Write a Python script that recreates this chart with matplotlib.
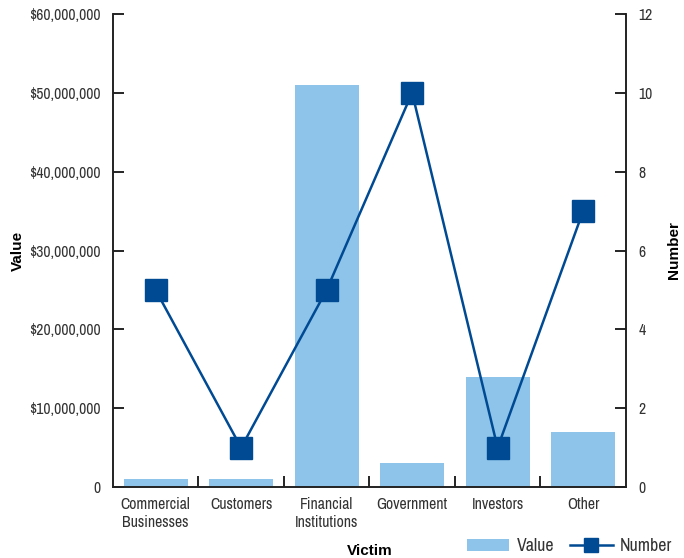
import numpy as np
import matplotlib.pyplot as plt
from matplotlib import font_manager as fm
from matplotlib.ticker import FuncFormatter

# pick a narrow sans face if one is installed
names = sorted({f.name for f in fm.fontManager.ttflist})
narrow = [n for n in names if 'Narrow' in n or 'Condensed' in n]
base = narrow[0] if narrow else 'Liberation Sans'
plt.rcParams['font.family'] = [base, 'DejaVu Sans']

victims = ['Commercial\nBusinesses', 'Customers', 'Financial\nInstitutions',
           'Government', 'Investors', 'Other']
value = [1000000, 1000000, 51000000, 3000000, 14000000, 7000000]
number = [5, 1, 5, 10, 1, 7]

bar_color = '#8EC4EA'
line_color = '#004A93'
text_color = '#333333'
fs = 11.3 if narrow else 9.5
title_font = dict(fontweight='bold', fontsize=11, family=['Liberation Sans', 'DejaVu Sans'])

fig = plt.figure(figsize=(6.84, 5.58), dpi=100)
ax = fig.add_axes([0.165, 0.127, 0.75, 0.848])
x = np.arange(len(victims))
ax.bar(x, value, width=0.75, color=bar_color, label='Value', zorder=1)
ax.set_xlim(-0.5, len(victims) - 0.5)
ax.set_ylim(0, 60000000)
ax.set_yticks(np.arange(0, 60000001, 10000000))
ax.yaxis.set_major_formatter(FuncFormatter(lambda v, p: '0' if v == 0 else '${:,.0f}'.format(v)))
ax.set_xticks(x)
ax.set_xticklabels(victims, linespacing=1.25)
ax.set_xticks(np.arange(0.5, len(victims) - 1, 1), minor=True)
ax.tick_params(axis='x', which='major', length=0, pad=7, labelsize=fs, labelcolor=text_color)
ax.tick_params(axis='x', which='minor', direction='in', length=8, width=1.2)
ax.tick_params(axis='y', direction='in', length=8, width=1.2, labelsize=fs, labelcolor=text_color, pad=9)
ax.set_ylabel('Value', labelpad=3, **title_font)
ax.set_xlabel('Victim', labelpad=10, **title_font)
ax.spines['top'].set_visible(False)
for s in ['left', 'right', 'bottom']:
    ax.spines[s].set_linewidth(1.2)
    ax.spines[s].set_color('#222222')

ax2 = ax.twinx()
ax2.plot(x, number, color=line_color, lw=1.8, marker='s', markersize=16,
         markerfacecolor=line_color, markeredgecolor=line_color, label='Number', zorder=3)
ax2.set_ylim(0, 12)
ax2.set_yticks(np.arange(0, 13, 2))
ax2.tick_params(axis='y', direction='in', length=8, width=1.2, labelsize=fs, labelcolor=text_color, pad=9)
ax2.set_ylabel('Number', labelpad=10, **title_font)
ax2.spines['top'].set_visible(False)
for s in ['left', 'right', 'bottom']:
    ax2.spines[s].set_linewidth(1.2)
    ax2.spines[s].set_color('#222222')

h1, l1 = ax.get_legend_handles_labels()
h2, l2 = ax2.get_legend_handles_labels()
fig.legend(h1 + h2, l1 + l2, loc='lower right', bbox_to_anchor=(1.006, -0.022), ncol=2,
           frameon=False, fontsize=fs + 1.5, handlelength=2.4, columnspacing=0.9,
           handletextpad=0.4, markerscale=0.6, labelcolor=text_color)

fig.savefig('out.png', dpi=100)
